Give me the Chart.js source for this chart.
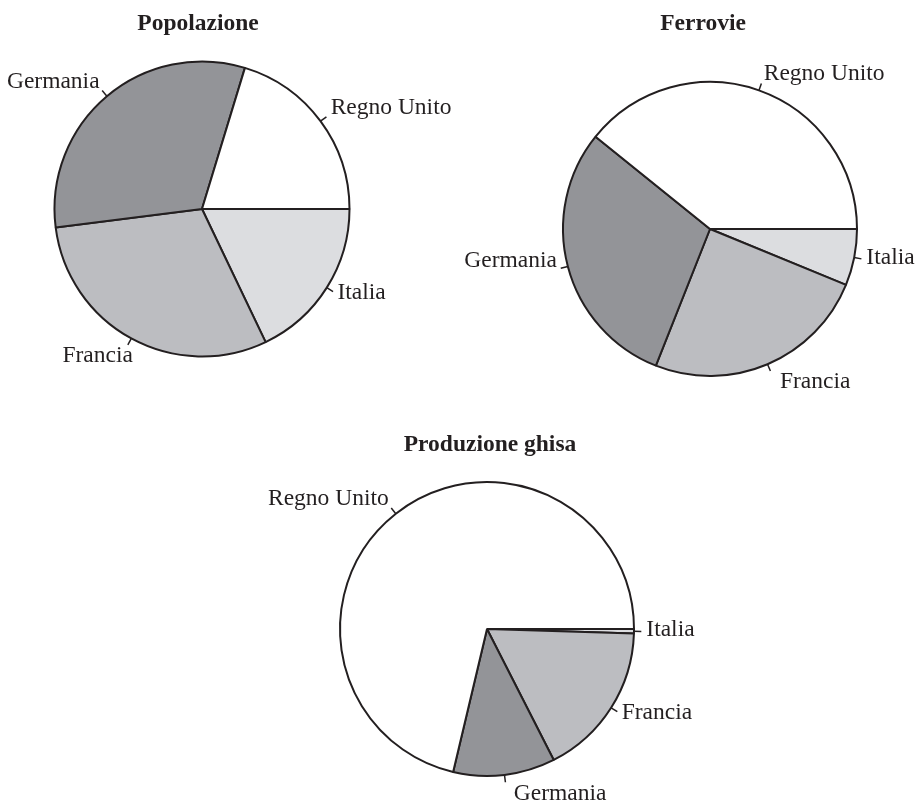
<!DOCTYPE html>
<html>
<head>
    <title>Popolazione, Ferrovie, Produzione ghisa</title>
    <script src="https://cdn.jsdelivr.net/npm/chart.js"></script>
    <style>
        body { margin: 0; width: 920px; height: 800px; overflow: hidden; background: #fff; position: relative; }
        canvas { position: absolute; left: 0; top: 0; }
    </style>
</head>
<body>
    <canvas id="popChart" width="920" height="800"></canvas>
    <canvas id="ferChart" width="920" height="800"></canvas>
    <canvas id="ghisaChart" width="920" height="800"></canvas>

    <script>
    // countries, in the order they go round the pie (counterclockwise from 3 o'clock)
    const countries = ['Regno Unito', 'Germania', 'Francia', 'Italia'];
    const colors = ['#ffffff', '#939498', '#bcbdc1', '#dcdde0'];

    // shares in percent
    const popolazione = [20.3, 31.7, 30.1, 17.9];
    const ferrovie = [39.2, 29.8, 24.8, 6.2];
    const ghisa = [71.3, 11.2, 17.0, 0.5];

    const ink = '#231f20';
    const font = '23.5px "Liberation Serif", "Times New Roman", serif';
    const boldFont = 'bold 23.5px "Liberation Serif", "Times New Roman", serif';

    // labels with a little radial tick, like the printed figure
    const pieLabels = {
        id: 'pieLabels',
        afterDatasetsDraw(chart, args, opts) {
            const ctx = chart.ctx;
            const meta = chart.getDatasetMeta(0);
            ctx.save();
            ctx.strokeStyle = ink;
            ctx.fillStyle = ink;
            ctx.lineWidth = 1.5;
            meta.data.forEach((arc, i) => {
                const p = arc.getProps(['x', 'y', 'startAngle', 'endAngle', 'outerRadius'], true);
                const mid = (p.startAngle + p.endAngle) / 2;
                const c = Math.cos(mid), s = Math.sin(mid);
                const r = p.outerRadius;
                ctx.beginPath();
                ctx.moveTo(p.x + c * r, p.y + s * r);
                ctx.lineTo(p.x + c * r * 1.05, p.y + s * r * 1.05);
                ctx.stroke();

                const d = r * 1.05 + 4;
                let ax = p.x + c * d;
                const ay = p.y + s * d;
                const up = -s;
                let base;
                if (up > 0.4) base = ay;
                else if (up < -0.7) { base = ay + 13.5; ax += 7; }
                else if (c < 0) base = ay - 2;
                else base = ay + 4.8;
                ctx.font = font;
                ctx.textBaseline = 'alphabetic';
                ctx.textAlign = c >= 0 ? 'left' : 'right';
                ctx.fillText(chart.data.labels[i], ax + (c >= 0 ? 1 : 0), base);
            });
            const ca = chart.chartArea;
            const cx = (ca.left + ca.right) / 2, cy = (ca.top + ca.bottom) / 2;
            ctx.font = boldFont;
            ctx.textAlign = 'center';
            ctx.fillText(opts.text, cx + opts.dx, cy - opts.up);
            ctx.restore();
        }
    };

    function makePie(id, values, radius, cx, cy, title, dx, up) {
        const h = 150;
        // Chart.js goes clockwise, the figure goes counterclockwise: reverse
        return new Chart(document.getElementById(id).getContext('2d'), {
            type: 'pie',
            data: {
                labels: countries.slice().reverse(),
                datasets: [{
                    data: values.slice().reverse(),
                    backgroundColor: colors.slice().reverse(),
                    borderColor: ink,
                    borderWidth: 2
                }]
            },
            options: {
                responsive: false,
                animation: false,
                events: [],
                rotation: 90,
                radius: radius,
                layout: { padding: { left: cx - h, right: 920 - cx - h, top: cy - h, bottom: 800 - cy - h } },
                plugins: {
                    legend: { display: false },
                    tooltip: { enabled: false },
                    pieLabels: { text: title, dx: dx, up: up }
                }
            },
            plugins: [pieLabels]
        });
    }

    makePie('popChart', popolazione, 147.5, 202, 209, 'Popolazione', -4, 179);
    makePie('ferChart', ferrovie, 147, 710, 229, 'Ferrovie', -7, 199);
    makePie('ghisaChart', ghisa, 147, 487, 629, 'Produzione ghisa', 3, 178);
</script>

</body>
</html>
